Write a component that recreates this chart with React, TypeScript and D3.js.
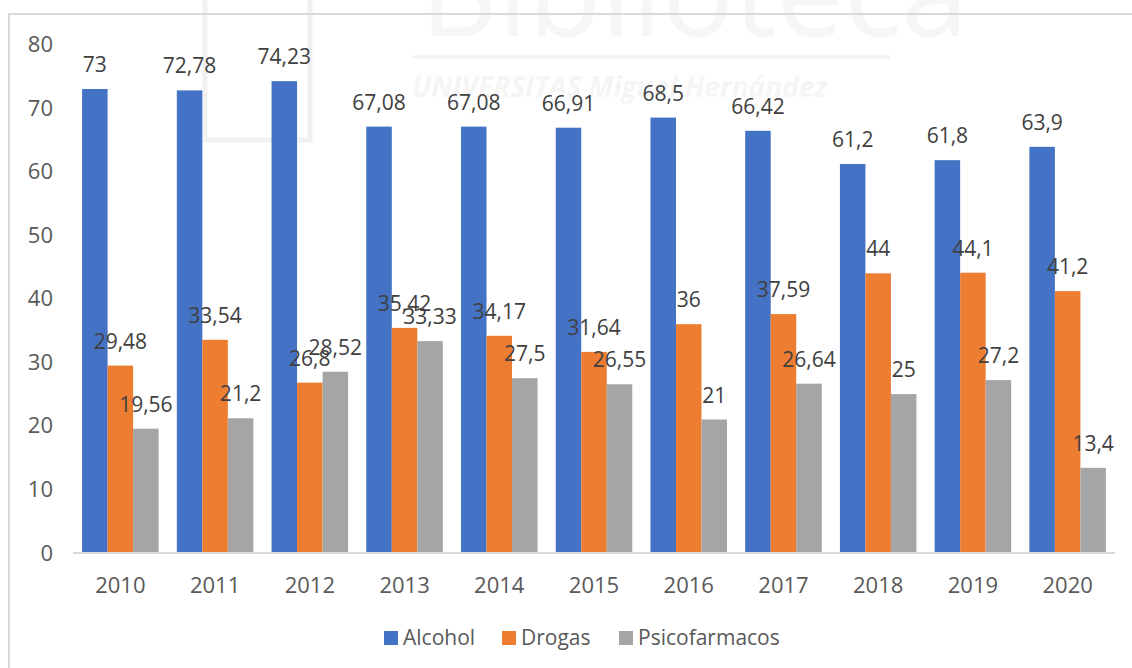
import React, { useEffect, useRef } from "react";
import * as d3 from "d3";

const years = ["2010", "2011", "2012", "2013", "2014", "2015", "2016", "2017", "2018", "2019", "2020"];
const seriesNames = ["Alcohol", "Drogas", "Psicofarmacos"];
const alcohol = [73, 72.78, 74.23, 67.08, 67.08, 66.91, 68.5, 66.42, 61.2, 61.8, 63.9];
const drogas = [29.48, 33.54, 26.8, 35.42, 34.17, 31.64, 36, 37.59, 44, 44.1, 41.2];
const psicofarmacos = [19.56, 21.2, 28.52, 33.33, 27.5, 26.55, 21, 26.64, 25, 27.2, 13.4];
const yTicks = [0, 10, 20, 30, 40, 50, 60, 70, 80];
const colors = ["#4472C4", "#ED7D31", "#A5A5A5"];

function App() {
  const svgRef = useRef(null);
  const [width, height] = [1132, 668];
  const font = "'Open Sans', 'Noto Sans', sans-serif";

  useEffect(() => {
    const svg = d3.select(svgRef.current);
    svg.selectAll("*").remove();

    // faint watermark from the source document
    const wm = svg.append("g").attr("fill", "none").attr("stroke", "#f1f1f1");
    wm.append("rect").attr("x", 205).attr("y", -10).attr("width", 105).attr("height", 150).attr("stroke-width", 5);
    wm.append("text")
      .attr("x", 420).attr("y", 36)
      .attr("font-family", font).attr("font-size", 120)
      .attr("fill", "#f6f6f6").attr("stroke", "none")
      .text("Biblioteca");
    wm.append("line").attr("x1", 412).attr("x2", 890).attr("y1", 57).attr("y2", 57).attr("stroke-width", 3);
    wm.append("text")
      .attr("x", 412).attr("y", 97)
      .attr("font-family", font).attr("font-size", 28).attr("font-weight", 700).attr("font-style", "italic")
      .attr("fill", "#f5f5f5").attr("stroke", "none")
      .text("UNIVERSITAS Miguel Hernández");

    // chart frame
    svg.append("rect")
      .attr("x", 9).attr("y", 14)
      .attr("width", 1140).attr("height", 700)
      .attr("fill", "none").attr("stroke", "#d9d9d9").attr("stroke-width", 2);

    const x0 = d3.scaleBand().domain(years).range([73, 1115]).paddingInner(0.192).paddingOuter(0.096);
    const x1 = d3.scaleBand().domain(seriesNames).range([0, x0.bandwidth()]);
    const y = d3.scaleLinear().domain([0, 80]).range([553, 44.5]);

    // y axis labels
    const yAxis = svg.append("g")
      .attr("transform", "translate(53,0)")
      .call(d3.axisLeft(y).tickValues(yTicks).tickSize(0).tickPadding(0));
    yAxis.select(".domain").remove();
    yAxis.selectAll("text")
      .attr("font-family", font).attr("font-size", 22).attr("fill", "#595959");

    const data = [alcohol, drogas, psicofarmacos];

    const groups = svg.append("g")
      .selectAll("g")
      .data(years)
      .join("g")
      .attr("transform", (d) => `translate(${x0(d)},0)`);

    groups.selectAll("rect")
      .data((d, i) => seriesNames.map((s, k) => ({ s, v: data[k][i], k })))
      .join("rect")
      .attr("x", (d) => x1(d.s))
      .attr("y", (d) => y(d.v))
      .attr("width", x1.bandwidth())
      .attr("height", (d) => y(0) - y(d.v))
      .attr("fill", (d) => colors[d.k]);

    // x axis line
    svg.append("line")
      .attr("x1", 73).attr("x2", 1115)
      .attr("y1", y(0)).attr("y2", y(0))
      .attr("stroke", "#d9d9d9").attr("stroke-width", 2);

    // data labels
    groups.selectAll("text.lbl")
      .data((d, i) => seriesNames.map((s, k) => ({ s, v: data[k][i], k })))
      .join("text")
      .attr("class", "lbl")
      .attr("x", (d) => x1(d.s) + x1.bandwidth() / 2)
      .attr("y", (d) => y(d.v) - 17)
      .attr("text-anchor", "middle")
      .attr("font-family", font).attr("font-size", 21).attr("fill", "#404040")
      .text((d) => String(d.v).replace(".", ","));

    // x axis labels
    const xAxis = svg.append("g")
      .attr("transform", `translate(0,${y(0)})`)
      .call(d3.axisBottom(x0).tickSize(0).tickPadding(24));
    xAxis.select(".domain").remove();
    xAxis.selectAll("text")
      .attr("font-family", font).attr("font-size", 22).attr("fill", "#595959");

    // legend
    const legendX = [384, 502, 619];
    const legend = svg.append("g")
      .selectAll("g")
      .data(seriesNames)
      .join("g")
      .attr("transform", (d, i) => `translate(${legendX[i]},631)`);
    legend.append("rect").attr("width", 14).attr("height", 14).attr("fill", (d, i) => colors[i]);
    legend.append("text")
      .attr("x", 19).attr("y", 14)
      .attr("font-family", font).attr("font-size", 21).attr("fill", "#595959")
      .text((d) => d);
  }, []);

  return (
    <svg ref={svgRef} width={width} height={height}
      style={{ position: "absolute", left: 0, top: 0, background: "#fff" }}></svg>
  );
}

export default App;
